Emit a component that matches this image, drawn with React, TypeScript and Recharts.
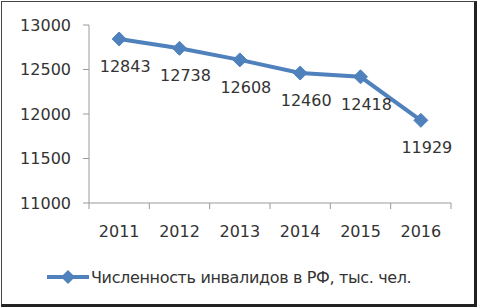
import React from 'react';
import { LineChart, Line, XAxis, YAxis, Legend, LabelList } from 'recharts';

const years = ['2011', '2012', '2013', '2014', '2015', '2016'];
const disabled = [12843, 12738, 12608, 12460, 12418, 11929];
const yTicks = [11000, 11500, 12000, 12500, 13000];
const seriesName = 'Численность инвалидов в РФ, тыс. чел.';

const data = years.map((year, i) => ({ year, value: disabled[i] }));

const W = 478;
const H = 308;
const LEFT = 89;
const RIGHT = 27;
const BLUE = '#4F81BD';
const AXIS = '#9a9a9a';
const TEXT = '#333333';
const FONT = '"DejaVu Sans", sans-serif';
const step = (W - LEFT - RIGHT) / years.length;

const Diamond = (props: any) => {
  const { cx, cy } = props;
  if (cx == null || cy == null) return null;
  const r = 7;
  return (
    <polygon
      points={`${cx},${cy - r} ${cx + r},${cy} ${cx},${cy + r} ${cx - r},${cy}`}
      fill={BLUE}
      stroke={BLUE}
      strokeWidth={1}
    />
  );
};

const YearTick = (props: any) => {
  const { x, y, payload, index } = props;
  const last = index === years.length - 1;
  return (
    <g>
      <line x1={x - step / 2} y1={y} x2={x - step / 2} y2={y + 6} stroke={AXIS} />
      {last && <line x1={x + step / 2} y1={y} x2={x + step / 2} y2={y + 6} stroke={AXIS} />}
      <text x={x} y={y + 34} textAnchor="middle" fontSize={16} fontFamily={FONT} fill={TEXT}>
        {payload.value}
      </text>
    </g>
  );
};

const ValueLabel = (props: any) => {
  const { x, y, value } = props;
  return (
    <text x={x + 6} y={y + 33} textAnchor="middle" fontSize={16} fontFamily={FONT} fill={TEXT}>
      {value}
    </text>
  );
};

const LegendBox = () => (
  <div style={{ height: 65, position: 'relative' }}>
    <svg width={W} height={65} style={{ position: 'absolute', left: 0, top: 0 }}>
      <line x1={47} y1={34} x2={89} y2={34} stroke={BLUE} strokeWidth={4} />
      <polygon points="68,27 75,34 68,41 61,34" fill={BLUE} />
      <text x={91} y={40} fontSize={16} letterSpacing={-0.35} fontFamily={FONT} fill={TEXT}>
        {seriesName}
      </text>
    </svg>
  </div>
);

export default function App() {
  return (
    <div
      style={{
        position: 'absolute',
        left: 0,
        top: 0,
        width: W,
        height: H,
        background: '#fff',
      }}
    >
      <div
        style={{
          position: 'absolute',
          left: 1,
          top: 1,
          width: W - 2,
          height: H - 2,
          boxSizing: 'border-box',
          border: '1px solid #444',
          borderRightWidth: 3,
          borderBottomWidth: 3,
          borderRightColor: '#222',
          borderBottomColor: '#222',
        }}
      />
      <LineChart
        width={W}
        height={H}
        data={data}
        margin={{ top: 25, right: RIGHT, left: 0, bottom: 0 }}
        style={{ position: 'absolute', left: 0, top: 0 }}
      >
        <XAxis
          dataKey="year"
          height={40}
          stroke={AXIS}
          padding={{ left: step / 2, right: step / 2 }}
          tickLine={false}
          tickSize={0}
          tickMargin={0}
          tick={<YearTick />}
          interval={0}
        />
        <YAxis
          width={LEFT}
          domain={[11000, 13000]}
          ticks={yTicks}
          stroke={AXIS}
          tickSize={6}
          tickMargin={12}
          tick={{ fontSize: 16, fontFamily: FONT, fill: TEXT }}
          interval={0}
        />
        <Legend verticalAlign="bottom" height={65} content={<LegendBox />} />
        <Line
          type="linear"
          dataKey="value"
          name={seriesName}
          stroke={BLUE}
          strokeWidth={4}
          dot={<Diamond />}
          activeDot={false}
          isAnimationActive={false}
        >
          <LabelList dataKey="value" content={<ValueLabel />} />
        </Line>
      </LineChart>
    </div>
  );
}
